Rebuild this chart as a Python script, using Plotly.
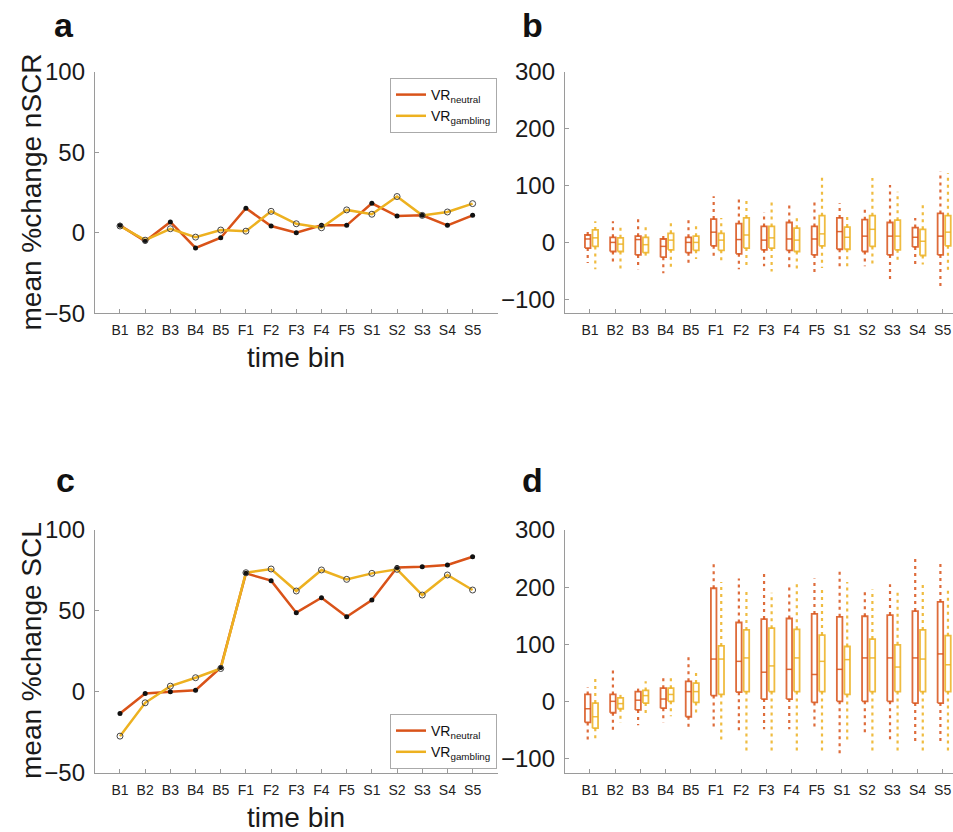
import plotly.graph_objects as go

# ---------------- data ----------------
bins = ["B1", "B2", "B3", "B4", "B5", "F1", "F2", "F3", "F4", "F5",
        "S1", "S2", "S3", "S4", "S5"]

# panel a: mean % change nSCR
nscr_neutral = [4.6, -5.2, 6.7, -9.4, -3.1, 15.2, 4.2, 0.0, 4.6, 4.6, 18.3, 10.4, 10.8, 4.6, 10.8]
nscr_gambling = [4.2, -4.6, 2.5, -2.7, 1.7, 1.0, 13.3, 5.6, 3.1, 14.2, 11.5, 22.5, 10.8, 12.9, 18.1]

# panel c: mean % change SCL
scl_neutral = [-13.4, -1.0, 0.0, 1.0, 15.0, 73.2, 68.7, 48.9, 58.1, 46.4, 56.7, 76.9, 77.3, 78.4, 83.5]
scl_gambling = [-27.4, -6.8, 3.5, 8.7, 14.4, 73.6, 75.9, 62.3, 75.3, 69.5, 73.2, 75.7, 59.8, 72.2, 62.9]

# panel b: nSCR box statistics (lower whisker, q1, median, q3, upper whisker)
b_neu_lo = [-36, -36, -47, -54, -42, -25, -47, -42, -47, -54, -47, -42, -70, -39, -83]
b_neu_q1 = [-10, -16, -22, -26, -18, -6, -20, -13, -14, -22, -12, -16, -22, -8, -22]
b_neu_md = [6, 0, 5, -7, 0, 18, 5, 4, 6, 6, 19, 11, 11, 9, 11]
b_neu_q3 = [13, 9, 11, 6, 9, 41, 33, 28, 35, 28, 43, 40, 35, 26, 51]
b_neu_hi = [22, 37, 43, 18, 39, 81, 76, 53, 68, 72, 69, 62, 101, 43, 125]

b_gam_lo = [-47, -51, -27, -48, -29, -37, -42, -51, -48, -45, -48, -42, -36, -39, -48]
b_gam_q1 = [-7, -16, -18, -13, -14, -14, -10, -10, -16, -6, -12, -7, -13, -23, -6]
b_gam_md = [8, -3, -4, 4, 0, 4, 13, 8, 4, 15, 9, 23, 11, 2, 18]
b_gam_q3 = [22, 8, 9, 16, 11, 16, 43, 28, 25, 47, 27, 47, 39, 23, 47]
b_gam_hi = [37, 28, 33, 34, 35, 43, 75, 72, 47, 116, 47, 113, 89, 68, 122]

# panel d: SCL box statistics
d_neu_lo = [-73, -52, -42, -37, -47, -49, -52, -49, -49, -49, -93, -61, -73, -76, -76]
d_neu_q1 = [-37, -20, -15, -12, -27, 10, 16, 4, 4, -2, 0, 0, 0, -3, -3]
d_neu_md = [-13, 0, 2, 4, 17, 74, 70, 51, 56, 47, 56, 76, 76, 76, 83]
d_neu_q3 = [12, 12, 17, 23, 35, 198, 138, 144, 145, 153, 148, 149, 151, 158, 174]
d_neu_hi = [25, 55, 29, 41, 84, 242, 215, 224, 202, 215, 231, 195, 205, 250, 242]

d_gam_lo = [-67, -38, -26, -26, -26, -73, -93, -90, -90, -90, -70, -93, -90, -90, -90]
d_gam_q1 = [-47, -13, -3, 0, -2, 12, 17, 17, 17, 17, 12, 17, 17, 17, 17]
d_gam_md = [-27, -4, 10, 12, 17, 74, 76, 62, 76, 70, 73, 76, 60, 74, 64]
d_gam_q3 = [-3, 6, 19, 23, 32, 97, 125, 128, 126, 116, 96, 109, 99, 125, 115]
d_gam_hi = [39, 17, 35, 45, 52, 209, 198, 190, 208, 196, 209, 196, 190, 208, 196]

# ---------------- style ----------------
RED = "#D95319"
YEL = "#EDB120"
FONT = "Liberation Sans, Arial, Helvetica, sans-serif"
W, H = 953, 832
xpos = list(range(1, len(bins) + 1))


def px(x):
    return x / W


def py(y):
    return 1 - y / H


fig = go.Figure()


def add_lines(xa, ya, neu, gam, legend):
    fig.add_trace(go.Scatter(x=xpos, y=neu, mode="lines", line=dict(color=RED, width=2.5),
                             name="VR<sub>neutral</sub>", xaxis=xa, yaxis=ya, legend=legend))
    fig.add_trace(go.Scatter(x=xpos, y=gam, mode="lines", line=dict(color=YEL, width=2.5),
                             name="VR<sub>gambling</sub>", xaxis=xa, yaxis=ya, legend=legend))
    fig.add_trace(go.Scatter(x=xpos, y=neu, mode="markers",
                             marker=dict(symbol="circle", size=5, color="#111"),
                             showlegend=False, xaxis=xa, yaxis=ya, hoverinfo="skip"))
    fig.add_trace(go.Scatter(x=xpos, y=gam, mode="markers",
                             marker=dict(symbol="circle-open", size=6, color="#444",
                                         line=dict(width=1)),
                             showlegend=False, xaxis=xa, yaxis=ya, hoverinfo="skip"))


def add_boxes(xa, ya, lo, q1, md, q3, hi, offset, color):
    w = 0.22
    bx, by, mx, my, wx, wy = [], [], [], [], [], []
    for i, x0 in enumerate(xpos):
        c = x0 + offset
        bx += [c - w / 2, c + w / 2, c + w / 2, c - w / 2, c - w / 2, None]
        by += [q1[i], q1[i], q3[i], q3[i], q1[i], None]
        mx += [c - w / 2, c + w / 2, None]
        my += [md[i], md[i], None]
        wx += [c, c, None, c, c, None]
        wy += [q3[i], hi[i], None, q1[i], lo[i], None]
    fig.add_trace(go.Scatter(x=wx, y=wy, mode="lines",
                             line=dict(color=color, width=2.2, dash="3px,4px"),
                             opacity=0.85, showlegend=False, xaxis=xa, yaxis=ya, hoverinfo="skip"))
    fig.add_trace(go.Scatter(x=bx, y=by, mode="lines", line=dict(color=color, width=1.8),
                             opacity=0.85, showlegend=False, xaxis=xa, yaxis=ya, hoverinfo="skip"))
    fig.add_trace(go.Scatter(x=mx, y=my, mode="lines", line=dict(color=color, width=1.5),
                             opacity=0.85, showlegend=False, xaxis=xa, yaxis=ya, hoverinfo="skip"))


add_lines("x", "y", nscr_neutral, nscr_gambling, "legend")
add_boxes("x2", "y2", b_neu_lo, b_neu_q1, b_neu_md, b_neu_q3, b_neu_hi, -0.09, RED)
add_boxes("x2", "y2", b_gam_lo, b_gam_q1, b_gam_md, b_gam_q3, b_gam_hi, 0.21, YEL)
add_lines("x3", "y3", scl_neutral, scl_gambling, "legend2")
add_boxes("x4", "y4", d_neu_lo, d_neu_q1, d_neu_md, d_neu_q3, d_neu_hi, -0.09, RED)
add_boxes("x4", "y4", d_gam_lo, d_gam_q1, d_gam_md, d_gam_q3, d_gam_hi, 0.21, YEL)

AX = "#9a9a9a"


def xaxis(dom, rng, anchor):
    return dict(domain=dom, range=rng, anchor=anchor, tickvals=xpos, ticktext=bins,
                showline=True, linecolor=AX, linewidth=1, ticks="inside", ticklen=4,
                tickcolor=AX, showgrid=False, zeroline=False, ticklabelstandoff=4,
                minor=dict(tick0=0, dtick=1, ticks="inside", ticklen=4, tickcolor=AX,
                           showgrid=False),
                automargin=False,
                tickfont=dict(family=FONT, size=14, color="#222"), fixedrange=True)


def yaxis(dom, rng, tv, anchor):
    return dict(domain=dom, range=rng, anchor=anchor, tickvals=tv,
                showline=True, linecolor=AX, linewidth=1, ticks="inside", ticklen=4,
                tickcolor=AX, showgrid=False, zeroline=False, ticklabelstandoff=4,
                automargin=False,
                tickfont=dict(family=FONT, size=24, color="#1a1a1a"), fixedrange=True)


xl = [px(94.8), px(497.8)]
xr = [px(564.8), 1.0]
ytop = [py(313.3), py(71.7)]
ybot = [py(772.7), py(530.0)]

legend_style = dict(bgcolor="white", bordercolor="#aaaaaa", borderwidth=1,
                    font=dict(family=FONT, size=14, color="#111"),
                    xanchor="left", yanchor="top", tracegroupgap=0, itemwidth=30)

fig.update_layout(
    template="none",
    width=W, height=H, margin=dict(l=0, r=0, t=0, b=0, pad=0, autoexpand=False),
    paper_bgcolor="white", plot_bgcolor="white",
    font=dict(family=FONT),
    xaxis=xaxis(xl, [0, 16], "y"),
    yaxis=yaxis(ytop, [-50, 100], [-50, 0, 50, 100], "x"),
    xaxis2=xaxis(xr, [0, 15.41], "y2"),
    yaxis2=yaxis(ytop, [-124.6, 300], [-100, 0, 100, 200, 300], "x2"),
    xaxis3=xaxis(xl, [0, 16], "y3"),
    yaxis3=yaxis(ybot, [-50, 100], [-50, 0, 50, 100], "x3"),
    xaxis4=xaxis(xr, [0, 15.41], "y4"),
    yaxis4=yaxis(ybot, [-125, 300], [-100, 0, 100, 200, 300], "x4"),
    legend=dict(x=px(390), y=py(78), **legend_style),
    legend2=dict(x=px(390), y=py(714), **legend_style),
    showlegend=True,
)

ann = []
for txt, x, y in [("a", 64, 25), ("b", 532, 25), ("c", 65, 480), ("d", 532, 480)]:
    ann.append(dict(text="<b>%s</b>" % txt, x=px(x), y=py(y), xref="paper", yref="paper",
                    showarrow=False, xanchor="center", yanchor="middle",
                    font=dict(family=FONT, size=34, color="#111")))
for y in (357, 817):
    ann.append(dict(text="time bin", x=px(296), y=py(y), xref="paper", yref="paper",
                    showarrow=False, xanchor="center", yanchor="middle",
                    font=dict(family=FONT, size=28, color="#1a1a1a")))
for txt, y in [("mean %change nSCR", 192.5), ("mean %change SCL", 651)]:
    ann.append(dict(text=txt, x=px(31), y=py(y), xref="paper", yref="paper", textangle=-90,
                    showarrow=False, xanchor="center", yanchor="middle",
                    font=dict(family=FONT, size=28, color="#1a1a1a")))
fig.update_layout(annotations=ann)

fig.write_html("out.html", config={"displayModeBar": False},
               post_script="document.body.style.margin='0';")
